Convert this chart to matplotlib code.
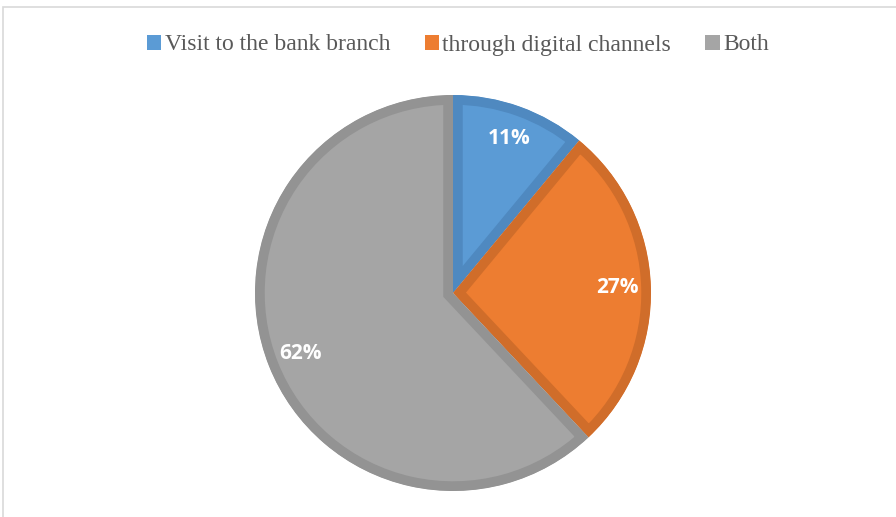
import matplotlib.pyplot as plt
from matplotlib.patches import Rectangle, Patch

labels = ['Visit to the bank branch', 'through digital channels', 'Both']
shares = [11, 27, 62]
fills = ['#5B9BD5', '#ED7D31', '#A5A5A5']
edges = ['#4F89C0', '#D06D2A', '#939393']

fig = plt.figure(figsize=(8.96, 5.17), dpi=100)

# thin chart-area border, open to the right and bottom
fig.patches.append(Rectangle((3 / 896, -0.1), 1.2, (517 - 7) / 517 + 0.1,
                             transform=fig.transFigure, fill=False,
                             edgecolor='#D9D9D9', linewidth=1.2))

ax = fig.add_axes([255 / 896, 26 / 517, 396 / 896, 396 / 517])
wedges, texts, autotexts = ax.pie(
    shares, colors=fills, startangle=90, counterclock=False,
    autopct='%1.0f%%', pctdistance=0.83,
    textprops=dict(color='white', fontsize=15, fontweight='bold',
                   family='Open Sans'))

ax.set_xlim(-1, 1)
ax.set_ylim(-1, 1)
ax.set_aspect('equal')

# darker band on the inside of each slice: stroke twice as wide, clipped to the slice
for w, ec in zip(wedges, edges):
    w.set_edgecolor(ec)
    w.set_linewidth(14)
    w.set_clip_on(True)
    w.set_clip_path(w.get_path(), w.get_transform())

handles = [Patch(facecolor=c, edgecolor='none') for c in fills]
fig.legend(handles, labels, loc='center', bbox_to_anchor=(458 / 896, 1 - 45 / 517),
           ncol=3, frameon=False, handlelength=0.6, handleheight=0.6,
           handletextpad=0.15, columnspacing=1.45,
           prop=dict(family='Liberation Serif', size=17), labelcolor='#595959')

fig.savefig('out.png', dpi=100)
